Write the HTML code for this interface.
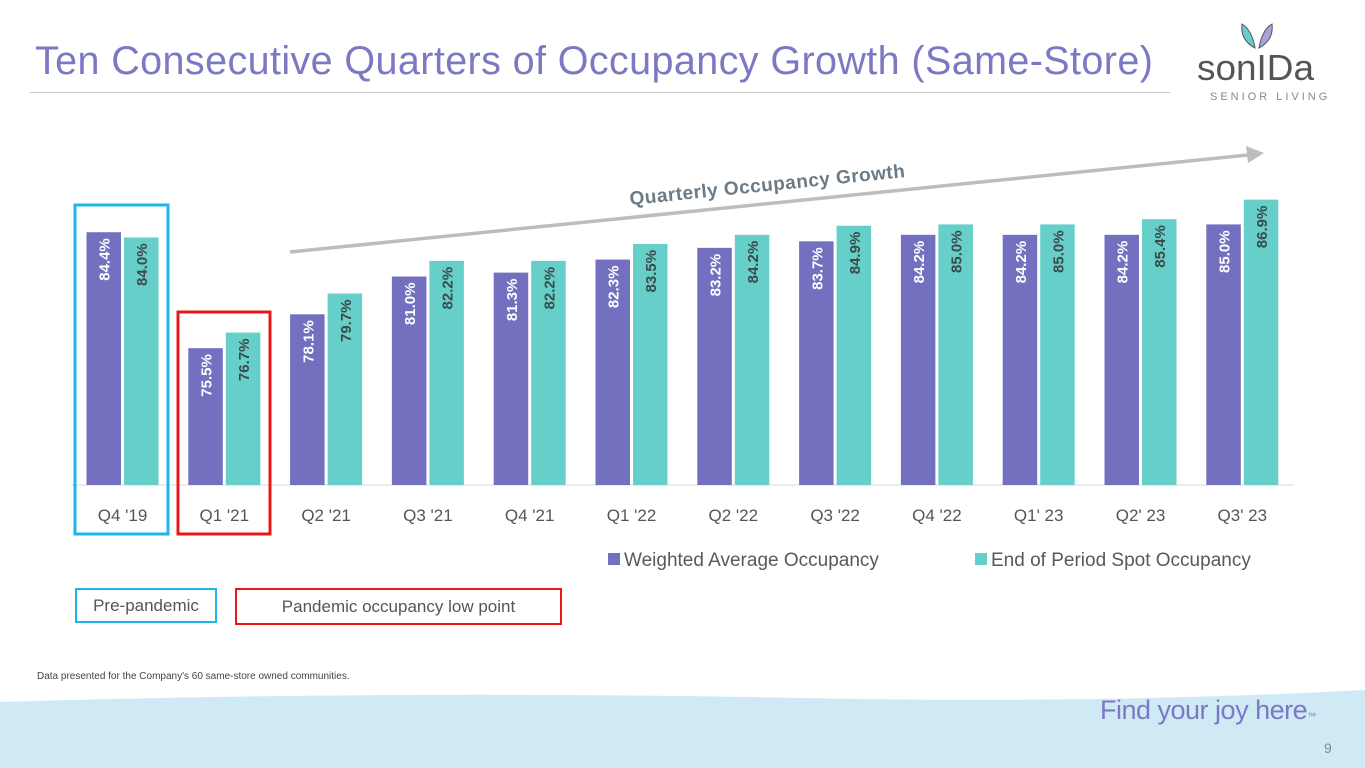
<!DOCTYPE html>
<html><head><meta charset="utf-8"><style>
body{margin:0;width:1365px;height:768px;background:#fff;overflow:hidden;position:relative;font-family:"Liberation Sans",sans-serif}
.t{position:absolute}
</style></head><body>
<div class="t" style="left:35px;top:39px;font-size:39.5px;color:#7b78c4;letter-spacing:0.4px;white-space:nowrap">Ten Consecutive Quarters of Occupancy Growth (Same-Store)</div>
<div class="t" style="left:30px;top:92px;width:1140px;height:1px;background:#c8c8c8"></div>
<svg class="t" style="left:1180px;top:10px" width="160" height="95">
<path d="M62 14 Q60 30 75 38 Q72 20 62 14Z" fill="#66cfc9" stroke="#555" stroke-width="1"/>
<path d="M92 14 Q94 30 79 38 Q82 20 92 14Z" fill="#a9a3dc" stroke="#555" stroke-width="1"/>
<text x="17" y="70" font-size="36" fill="#555" font-family="Liberation Sans" textLength="117" lengthAdjust="spacingAndGlyphs">sonIDa</text>
<text x="30" y="90" font-size="11" fill="#888" letter-spacing="3">SENIOR LIVING</text>
</svg>
<svg class="t" id="chart" style="left:0;top:0" width="1365" height="640"></svg>
<div class="t" style="left:75px;top:588px;width:142px;height:35px;border:2px solid #1fb5e8;box-sizing:border-box;font-size:17px;color:#555;text-align:center;line-height:31px">Pre-pandemic</div>
<div class="t" style="left:235px;top:588px;width:327px;height:37px;border:2px solid #e81818;box-sizing:border-box;font-size:17px;color:#555;text-align:center;line-height:33px">Pandemic occupancy low point</div>
<div class="t" style="left:37px;top:671px;font-size:10px;color:#444">Data presented for the Company's 60 same-store owned communities.</div>
<svg class="t" style="left:0;top:690px" width="1365" height="78"><path d="M0 12 Q400 0 800 8 Q1100 14 1365 0 L1365 78 L0 78Z" fill="#cfeaf5"/></svg>
<div class="t" style="left:1100px;top:695px;font-size:27px;color:#7b78c4;letter-spacing:-0.5px">Find your joy here<span style="font-size:9px">™</span></div>
<div class="t" style="left:1324px;top:740px;font-size:14px;color:#888">9</div>
<script>
const categories=["Q4 '19","Q1 '21","Q2 '21","Q3 '21","Q4 '21","Q1 '22","Q2 '22","Q3 '22","Q4 '22","Q1' 23","Q2' 23","Q3' 23"];
const weighted=[84.4,75.5,78.1,81.0,81.3,82.3,83.2,83.7,84.2,84.2,84.2,85.0];
const spot=[84.0,76.7,79.7,82.2,82.2,83.5,84.2,84.9,85.0,85.0,85.4,86.9];
const seriesNames=["Weighted Average Occupancy","End of Period Spot Occupancy"];
const NS="http://www.w3.org/2000/svg",svg=document.getElementById('chart');
const yMin=65,base=485,pxPer=13.03;
const y=v=>base-(v-yMin)*pxPer;
const xc=i=>122.5+i*101.8;
function mk(t,a,txt){const e=document.createElementNS(NS,t);for(const k in a)e.setAttribute(k,a[k]);if(txt!==undefined)e.textContent=txt;svg.appendChild(e);return e;}
const ax=mk('line',{x1:72,x2:1294,y1:485,y2:485,stroke:'#d9d9d9','stroke-width':1});


function bar(i,v,left,fill,tc,name){
  const x=left?xc(i)-36:xc(i)+1.5;
  const r=mk('rect',{x:x,y:y(v),width:34.5,height:base-y(v),fill:fill});
  
  
  const tx=x+17.25+6,ty=y(v)+6;
  const t=mk('text',{x:tx,y:ty,transform:`rotate(-90 ${tx} ${ty})`,'text-anchor':'end','font-size':15,'font-weight':'bold',fill:tc},v.toFixed(1)+'%');
  
  
}
categories.forEach((c,i)=>{
  bar(i,weighted[i],true,'#7470c0','#fff','weighted');
  bar(i,spot[i],false,'#66cfc9','#3b4a4a','spot');
  const l=mk('text',{x:xc(i),y:521,'text-anchor':'middle','font-size':17,fill:'#555'},c);
  
  
});
const b1=mk('rect',{x:75,y:205,width:93,height:329,fill:'none',stroke:'#1fb5e8','stroke-width':3});


const b2=mk('rect',{x:178,y:312,width:92,height:222,fill:'none',stroke:'#e81818','stroke-width':3});


const ar=mk('line',{x1:290,y1:252,x2:1248,y2:155,stroke:'#bdbdbd','stroke-width':3.5});


const ah=mk('polygon',{points:'1264,153 1246,146 1248,163',fill:'#bdbdbd'});


const gt=mk('text',{x:768,y:191,'text-anchor':'middle','font-size':19,'font-weight':'bold',fill:'#6b7a85',transform:'rotate(-5.8 768 191)','letter-spacing':'0.5'},'Quarterly Occupancy Growth');


[[608,'#7470c0'],[975,'#66cfc9']].forEach((p,k)=>{
  const s=mk('rect',{x:p[0],y:553,width:12,height:12,fill:p[1]});
  
  
  const t=mk('text',{x:p[0]+16,y:566,'font-size':19,fill:'#595959'},seriesNames[k]);
  
  
});
</script>
</body></html>
